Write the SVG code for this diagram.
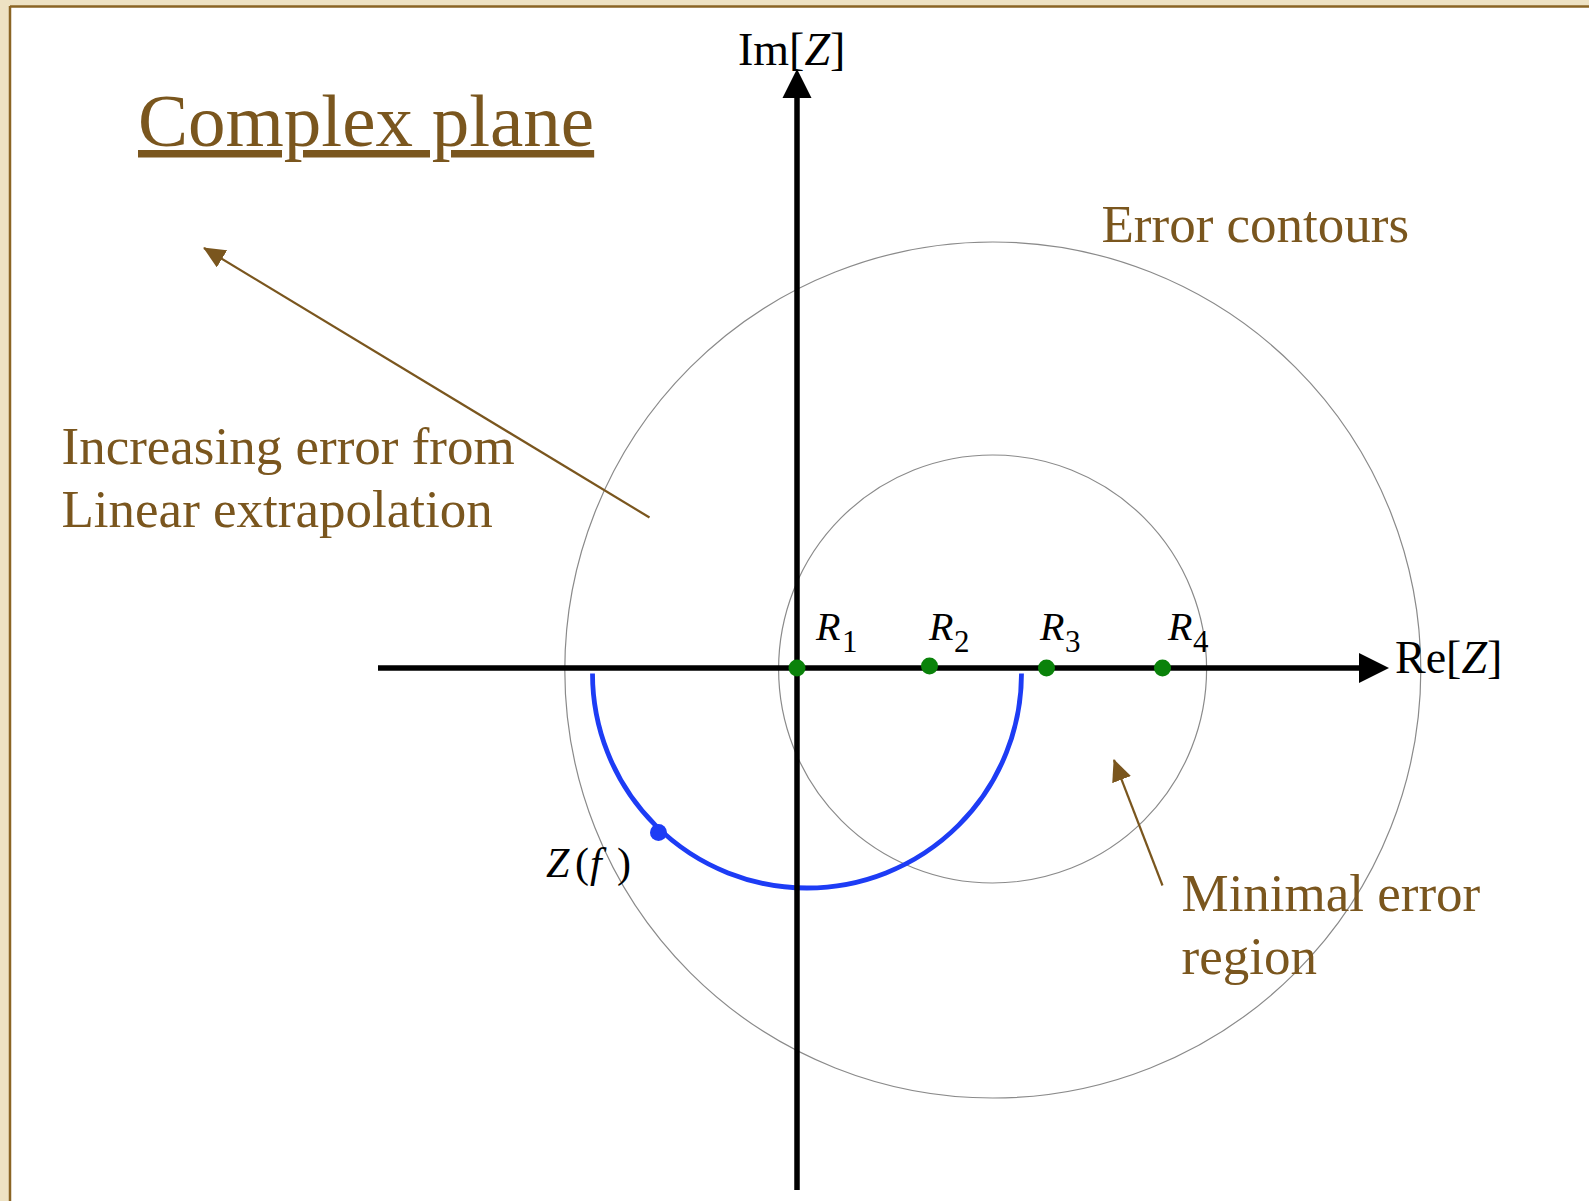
<svg xmlns="http://www.w3.org/2000/svg" width="1589" height="1201" viewBox="0 0 1589 1201">
  <style>
    .brown { fill: #7a561e; font-family: "Liberation Serif", "Times New Roman", serif; font-size: 53px; }
    .title { font-size: 75px; }
    .black { fill: #000; font-family: "Liberation Serif", "Times New Roman", serif; }
    .it { font-style: italic; }
    .contour { fill: none; stroke: #8a8a8a; stroke-width: 1.2; }
    .axis { stroke: #000; stroke-width: 5.5; fill: none; }
    .ptr { stroke: #7a561e; stroke-width: 2.2; fill: none; }
    .root { fill: #0a820a; }
  </style>
  <defs>
    <marker id="brownHead" viewBox="0 0 22 20" refX="21" refY="10" markerWidth="22" markerHeight="20" markerUnits="userSpaceOnUse" orient="auto">
      <path d="M0,0 L22,10 L0,20 Z" fill="#7a561e" />
    </marker>
  </defs>

  <!-- background frame -->
  <rect x="0" y="0" width="1589" height="1201" fill="#eee2c3" />
  <rect x="11" y="7" width="1578" height="1194" fill="#ffffff" />
  <line x1="10" y1="6.5" x2="1589" y2="6.5" stroke="#8a6424" stroke-width="2.5" />
  <line x1="10" y1="6" x2="10" y2="1201" stroke="#8a6424" stroke-width="2.5" />

  <!-- error contours -->
  <g id="contours">
    <circle class="contour" cx="992.8" cy="670" r="428" />
    <circle class="contour" cx="992.6" cy="669" r="214" />
  </g>

  <!-- impedance curve -->
  <g id="zf-curve">
    <path d="M592.5,673.5 A214.5,214.5 0 0 0 1021.5,673.5" fill="none" stroke="#1d3cf5" stroke-width="4.8" />
    <circle cx="658.5" cy="832.5" r="8.5" fill="#1d3cf5" />
  </g>

  <!-- connectors: axes and pointers -->
  <g id="connectors">
    <line class="axis" x1="378" y1="668" x2="1362" y2="668" />
    <path d="M1359,653 L1389,668 L1359,683 Z" fill="#000" />
    <line class="axis" x1="797" y1="1190" x2="797" y2="96" />
    <path d="M782.5,98 L797,69 L811.5,98 Z" fill="#000" />
    <line class="ptr" x1="649.5" y1="517.5" x2="204" y2="248" marker-end="url(#brownHead)" />
    <line class="ptr" x1="1162.5" y1="885.5" x2="1114" y2="760" marker-end="url(#brownHead)" />
  </g>

  <!-- roots -->
  <g id="R1"><circle class="root" cx="797" cy="668" r="8.5" />
    <text class="black" y="640" font-size="40"><tspan class="it" x="816">R</tspan><tspan x="842" y="652" font-size="31">1</tspan></text></g>
  <g id="R2"><circle class="root" cx="929.5" cy="666" r="8.5" />
    <text class="black" y="640" font-size="40"><tspan class="it" x="929">R</tspan><tspan x="954" y="652" font-size="31">2</tspan></text></g>
  <g id="R3"><circle class="root" cx="1046.5" cy="668" r="8.5" />
    <text class="black" y="640" font-size="40"><tspan class="it" x="1040">R</tspan><tspan x="1065" y="652" font-size="31">3</tspan></text></g>
  <g id="R4"><circle class="root" cx="1162.5" cy="668" r="8.5" />
    <text class="black" y="640" font-size="40"><tspan class="it" x="1168">R</tspan><tspan x="1193" y="652" font-size="31">4</tspan></text></g>

  <!-- axis labels -->
  <g id="im-label"><text class="black" x="738" y="65" font-size="46">Im[<tspan class="it">Z</tspan>]</text></g>
  <g id="re-label"><text class="black" x="1395" y="673" font-size="46">Re[<tspan class="it">Z</tspan>]</text></g>
  <g id="zf-label"><text class="black" y="877" font-size="42"><tspan class="it" x="546">Z</tspan><tspan x="575">(</tspan><tspan class="it" x="590">f</tspan><tspan x="617">)</tspan></text></g>

  <!-- annotations -->
  <g id="title"><text class="brown title" x="138" y="146" text-decoration="underline">Complex plane</text></g>
  <g id="error-contours-label"><text class="brown" x="1101.5" y="241.5">Error contours</text></g>
  <g id="increasing-label"><text class="brown" x="61.5" y="464">Increasing error from</text>
    <text class="brown" x="61.5" y="527">Linear extrapolation</text></g>
  <g id="minimal-label"><text class="brown" x="1181.5" y="911">Minimal error</text>
    <text class="brown" x="1181.5" y="974">region</text></g>
</svg>
